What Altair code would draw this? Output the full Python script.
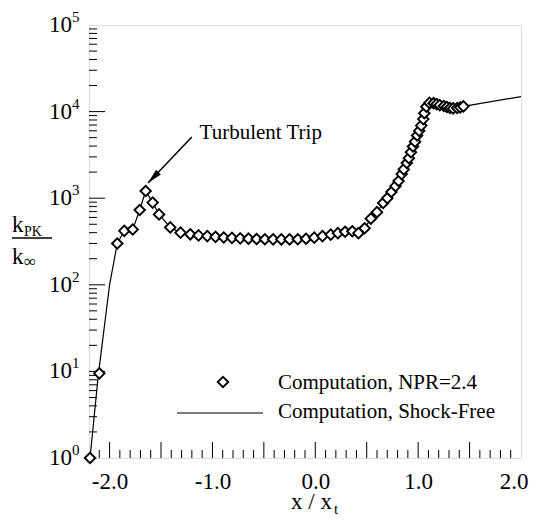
import altair as alt
import pandas as pd

# ---------------- data ----------------
# Computation, NPR=2.4  (diamonds)
npr_x = [-2.19, -2.10, -1.925, -1.857, -1.775, -1.707, -1.649, -1.581, -1.519, -1.41,
         -1.31, -1.215, -1.135, -1.05, -0.97, -0.89, -0.81, -0.73, -0.65, -0.57,
         -0.49, -0.41, -0.33, -0.25, -0.17, -0.09, -0.01, 0.07, 0.15, 0.22,
         0.29, 0.36, 0.42, 0.48, 0.54, 0.60, 0.66, 0.70, 0.74, 0.78,
         0.81, 0.84, 0.86, 0.89, 0.91, 0.93, 0.95, 0.97, 0.99, 1.01,
         1.03, 1.05, 1.06, 1.08, 1.11, 1.15, 1.18, 1.21, 1.25, 1.28,
         1.31, 1.34, 1.38, 1.41, 1.44]
npr_k = [1.0, 9.5, 300, 420, 435, 730, 1210, 890, 650, 460,
         400, 383, 372, 365, 358, 352, 348, 344, 341, 338,
         336, 335, 334, 334, 336, 340, 350, 365, 380, 395,
         410, 415, 395, 450, 580, 690, 880, 1000, 1180, 1380,
         1580, 1900, 2150, 2550, 2900, 3400, 3950, 4500, 5300, 6000,
         6900, 8200, 9600, 11400, 12600, 12500, 12200, 11900, 11600, 11300,
         11000, 10900, 11000, 11200, 11500]

# Computation, Shock-Free (solid line): its own start and end, diamonds' path between
line_start_x = [-2.19, -2.11, -2.0]
line_start_k = [1.0, 9.0, 100]
line_end_x = [2.0]
line_end_k = [14900]
line_x = line_start_x + npr_x[2:] + line_end_x
line_k = line_start_k + npr_k[2:] + line_end_k

# annotation: arrow tail / head and label (data coordinates)
arrow_tail = (-1.20, 5100)
arrow_head = (-1.626, 1500)
trip_label = ("Turbulent Trip", -1.125, 5660)

# axis labels / ticks
x_label_values = [-2.0, -1.0, 0.0, 1.0, 2.0]
x_major_ticks = [-2.0, -1.5, -1.0, -0.5, 0.0, 0.5, 1.0, 1.5]
x_minor_ticks = [round(-2.1 + 0.1 * i, 1) for i in range(41)]
x_minor_ticks = [v for v in x_minor_ticks if abs(v * 2 - round(v * 2)) > 1e-6]
y_decades = [0, 1, 2, 3, 4, 5]
y_major_ticks = [10, 100, 1000, 10000]
y_minor_ticks = [m * 10 ** d for d in range(5) for m in range(2, 10)]

legend_labels = ["Computation, NPR=2.4", "Computation, Shock-Free"]

# ---------------- chart ----------------
W, H = 432, 433
FONT = "Liberation Serif"

xs = alt.Scale(domain=[-2.2, 2.0], nice=False, zero=False)
ys = alt.Scale(type="log", domain=[1, 100000], nice=False)

xaxis = alt.Axis(values=x_label_values, ticks=False, domain=False, grid=False, title=None,
                 labelFont=FONT, labelFontSize=23, labelColor="black", labelPadding=12,
                 labelFlush=True, labelFlushOffset=7,
                 labelExpr="datum.value < 0 ? '-' + format(-datum.value, '.1f') : format(datum.value, '.1f')")

X = lambda f="x": alt.X(f"{f}:Q", scale=xs, axis=xaxis)
Y = lambda f="k": alt.Y(f"{f}:Q", scale=ys, axis=None)

line_df = pd.DataFrame({"x": line_x, "k": line_k})
npr_df = pd.DataFrame({"x": npr_x, "k": npr_k})

line = alt.Chart(line_df).mark_line(color="black", strokeWidth=1.2).encode(x=X(), y=Y())

pts = alt.Chart(npr_df).mark_point(shape="diamond", size=110, filled=True, fill="white",
                                   stroke="black", strokeWidth=1.9, opacity=1).encode(x=X(), y=Y())

# ticks (inward)
xmaj = alt.Chart(pd.DataFrame({"x": x_major_ticks})).mark_rule(color="black", strokeWidth=1).encode(
    x=X(), y=alt.value(H), y2=alt.value(H - 16))
xmin = alt.Chart(pd.DataFrame({"x": x_minor_ticks})).mark_rule(color="black", strokeWidth=1).encode(
    x=X(), y=alt.value(H), y2=alt.value(H - 8))
ymaj = alt.Chart(pd.DataFrame({"k": y_major_ticks})).mark_rule(color="black", strokeWidth=1).encode(
    y=Y(), x=alt.value(0), x2=alt.value(16))
ymin = alt.Chart(pd.DataFrame({"k": y_minor_ticks})).mark_rule(color="black", strokeWidth=1).encode(
    y=Y(), x=alt.value(0), x2=alt.value(8))

# y tick labels 10^n
ylab_df = pd.DataFrame({"k": [10 ** d for d in y_decades], "base": ["10"] * len(y_decades),
                        "exp": [str(d) for d in y_decades]})
ybase = alt.Chart(ylab_df).mark_text(align="right", baseline="middle", font=FONT, fontSize=23,
                                     color="black").encode(y=Y(), x=alt.value(-17), text="base:N")
yexp = alt.Chart(ylab_df).mark_text(align="left", baseline="middle", font=FONT, fontSize=15, dy=-8,
                                    color="black").encode(y=Y(), x=alt.value(-17), text="exp:N")

# arrow
arrow_df = pd.DataFrame({"x": [arrow_tail[0]], "k": [arrow_tail[1]],
                         "x2": [arrow_head[0]], "k2": [arrow_head[1]]})
arrow = alt.Chart(arrow_df).mark_rule(color="black", strokeWidth=1.5).encode(
    x=X(), y=Y(), x2="x2:Q", y2="k2:Q")
head = alt.Chart(pd.DataFrame({"x": [arrow_head[0]], "k": [arrow_head[1]]})).mark_point(
    shape="M0,0L0.45,2L-0.45,2Z", size=225, filled=True, color="black", opacity=1, angle=224
).encode(x=X(), y=Y())
trip = alt.Chart(pd.DataFrame({"x": [trip_label[1]], "k": [trip_label[2]], "t": [trip_label[0]]})).mark_text(
    align="left", baseline="middle", font=FONT, fontSize=21, color="black").encode(x=X(), y=Y(), text="t:N")

# legend (drawn)
one = pd.DataFrame({"a": [0]})
leg_pt = alt.Chart(one).mark_point(shape="diamond", size=110, filled=True, fill="white", stroke="black",
                                   strokeWidth=1.9, opacity=1).encode(x=alt.value(134), y=alt.value(357))
leg_ln = alt.Chart(one).mark_rule(color="black", strokeWidth=1.2).encode(
    x=alt.value(88), x2=alt.value(174), y=alt.value(388))
leg_t1 = alt.Chart(pd.DataFrame({"t": [legend_labels[0]]})).mark_text(
    align="left", baseline="middle", font=FONT, fontSize=21, color="black").encode(
    x=alt.value(189), y=alt.value(358), text="t:N")
leg_t2 = alt.Chart(pd.DataFrame({"t": [legend_labels[1]]})).mark_text(
    align="left", baseline="middle", font=FONT, fontSize=21, color="black").encode(
    x=alt.value(189), y=alt.value(387), text="t:N")

# y title: k_PK / k_inf
def txt(s, x, y, size, align="left", baseline="alphabetic"):
    return alt.Chart(pd.DataFrame({"t": [s]})).mark_text(
        align=align, baseline=baseline, font=FONT, fontSize=size, color="black").encode(
        x=alt.value(x), y=alt.value(y), text="t:N")

yt1 = txt("k", -77, 207, 23)
yt2 = txt("PK", -65, 211, 14)
ybar = alt.Chart(one).mark_rule(color="black", strokeWidth=1.3).encode(
    x=alt.value(-77), x2=alt.value(-37), y=alt.value(213))
yt3 = txt("k", -77, 239, 23)
yt4 = txt("∞", -65, 242, 17)

# x title: x / x_t
xt1 = txt("x / x", 243, 484, 23, align="right")
xt2 = txt("t", 245, 489, 15)

chart = alt.layer(
    xmin, xmaj, ymin, ymaj, line, pts, arrow, head, trip,
    leg_ln, leg_pt, leg_t1, leg_t2, ybase, yexp, yt1, yt2, ybar, yt3, yt4, xt1, xt2
).properties(
    width=W, height=H,
    autosize=alt.AutoSizeParams(type="none"),
    padding={"left": 81, "top": 17, "right": 8, "bottom": 60},
).configure_view(stroke="black", strokeWidth=1.5).configure(background="white")

chart.save("out.html", embed_options={"renderer": "svg", "actions": False})
